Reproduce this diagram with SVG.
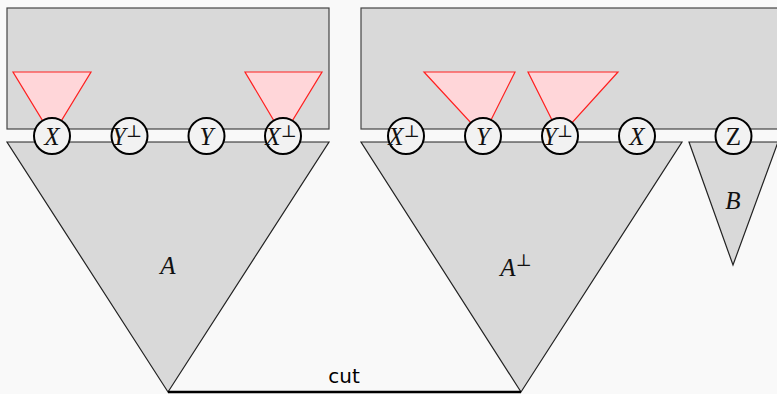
<svg xmlns="http://www.w3.org/2000/svg" width="777" height="394" viewBox="0 0 777 394">
<style>
.box{fill:#d9d9d9;stroke:#444;stroke-width:1.2}
.tri{fill:#d9d9d9;stroke:#222;stroke-width:1.2}
.red{fill:#ffd6d9;stroke:#ff2020;stroke-width:1.2}
.port{fill:#f2f2f2;stroke:#000;stroke-width:2}
.lbl{font-family:"Liberation Serif","DejaVu Serif",serif;font-style:italic;font-size:25px;text-anchor:middle;fill:#111}
.up{font-style:normal}
.sup{font-size:17px}
.cut{font-family:"DejaVu Sans","Liberation Sans",sans-serif;font-size:20px;text-anchor:middle;fill:#000}
</style>
<rect width="777" height="394" fill="#f9f9f9"/>
<g id="box-left"><rect class="box" x="7" y="8" width="322" height="121"/></g>
<g id="box-right"><rect class="box" x="361" y="8" width="420" height="121"/></g>
<g id="tri-A"><polygon class="tri" points="7,142 329,142 168,392"/><text class="lbl" x="168" y="274">A</text></g>
<g id="tri-Aperp"><polygon class="tri" points="361,142 682,142 521,392"/><text class="lbl" x="516" y="276">A<tspan class="sup up" dy="-10">⊥</tspan></text></g>
<g id="tri-B"><polygon class="tri" points="689,142 778,142 733,265"/><text class="lbl" x="733" y="209">B</text></g>
<g id="red-cones">
<polygon class="red" points="13,72 91,72 52,136"/>
<polygon class="red" points="245,72 322,72 283,136"/>
<polygon class="red" points="424,72 515,72 483,136"/>
<polygon class="red" points="528,72 618,72 560,136"/>
</g>
<g id="connectors"><line x1="168" y1="392" x2="521" y2="392" stroke="#000" stroke-width="2.5"/></g>
<g id="cut-label"><text class="cut" x="344" y="383">cut</text></g>
<g id="port-X1"><circle class="port" cx="52" cy="136" r="18"/><text class="lbl" x="52" y="145">X</text></g>
<g id="port-Yp1"><circle class="port" cx="129.5" cy="136" r="18"/><text class="lbl" x="127" y="145">Y<tspan class="sup up" dy="-8">⊥</tspan></text></g>
<g id="port-Y1"><circle class="port" cx="206.5" cy="136" r="18"/><text class="lbl" x="206.5" y="145">Y</text></g>
<g id="port-Xp1"><circle class="port" cx="283" cy="136" r="18"/><text class="lbl" x="281" y="145">X<tspan class="sup up" dy="-8">⊥</tspan></text></g>
<g id="port-Xp2"><circle class="port" cx="406" cy="136" r="18"/><text class="lbl" x="404" y="145">X<tspan class="sup up" dy="-8">⊥</tspan></text></g>
<g id="port-Y2"><circle class="port" cx="483" cy="136" r="18"/><text class="lbl" x="483" y="145">Y</text></g>
<g id="port-Yp2"><circle class="port" cx="560" cy="136" r="18"/><text class="lbl" x="558" y="145">Y<tspan class="sup up" dy="-8">⊥</tspan></text></g>
<g id="port-X2"><circle class="port" cx="637" cy="136" r="18"/><text class="lbl" x="637" y="145">X</text></g>
<g id="port-Z"><circle class="port" cx="733.5" cy="136" r="18"/><text class="lbl up" x="733.5" y="145">Z</text></g>
</svg>
